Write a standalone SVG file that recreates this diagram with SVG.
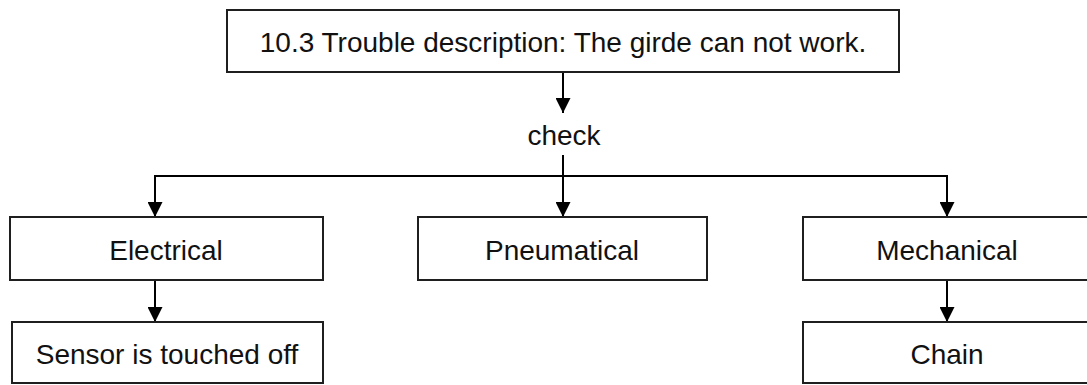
<svg xmlns="http://www.w3.org/2000/svg" width="1087" height="385" viewBox="0 0 1087 385">
<style>
.box{fill:#fff;stroke:#1f1f1f;stroke-width:2}
.lbl{font-family:"Liberation Sans",Arial,sans-serif;font-size:28px;fill:#111;text-anchor:middle}
.ln{fill:none;stroke:#000;stroke-width:2}
</style>
<defs>
<marker id="ah" markerUnits="userSpaceOnUse" markerWidth="15" markerHeight="15" refX="15" refY="7.5" orient="auto">
<path d="M0,0 L15,7.5 L0,15 z" fill="#000"/>
</marker>
</defs>
<rect width="1087" height="385" fill="#fff"/>
<g id="connectors">
<line class="ln" x1="563" y1="72" x2="563" y2="113" marker-end="url(#ah)"/>
<line class="ln" x1="563" y1="155" x2="563" y2="217" marker-end="url(#ah)"/>
<polyline class="ln" points="155,217 155,176 947,176 947,217" marker-end="url(#ah)" marker-start="none"/>
<line class="ln" x1="155" y1="176" x2="155" y2="217" marker-end="url(#ah)"/>
<line class="ln" x1="155" y1="280" x2="155" y2="322" marker-end="url(#ah)"/>
<line class="ln" x1="947" y1="280" x2="947" y2="322" marker-end="url(#ah)"/>
</g>
<g id="top">
<rect class="box" x="227" y="10" width="672" height="62"/>
<text class="lbl" x="563" y="52">10.3 Trouble description: The girde can not work.</text>
</g>
<g id="check">
<text class="lbl" x="564" y="145">check</text>
</g>
<g id="electrical">
<rect class="box" x="10" y="217" width="313" height="63"/>
<text class="lbl" x="166" y="260">Electrical</text>
</g>
<g id="pneumatical">
<rect class="box" x="418" y="217" width="289" height="63"/>
<text class="lbl" x="562" y="260">Pneumatical</text>
</g>
<g id="mechanical">
<rect class="box" x="803" y="217" width="288" height="63"/>
<text class="lbl" x="947" y="260">Mechanical</text>
</g>
<g id="sensor">
<rect class="box" x="12" y="322" width="311" height="61"/>
<text class="lbl" x="167" y="364">Sensor is touched off</text>
</g>
<g id="chain">
<rect class="box" x="803" y="322" width="288" height="61"/>
<text class="lbl" x="947" y="364">Chain</text>
</g>
</svg>
